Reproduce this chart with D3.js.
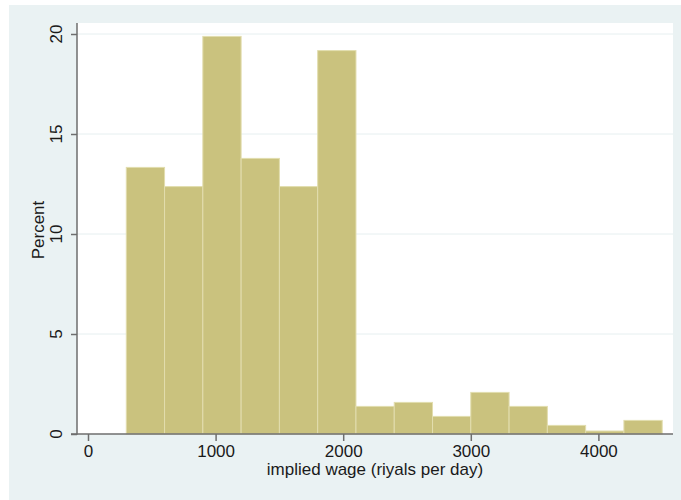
<!DOCTYPE html>
<html><head><meta charset="utf-8">
<script src="https://cdn.jsdelivr.net/npm/d3@7"></script>
<style>body{margin:0;background:#fff;}svg{display:block;}text{font-family:"Liberation Sans",Arial,sans-serif;fill:#1a1a1a;}</style>
</head><body>
<script>
const binStarts = [300,600,900,1200,1500,1800,2100,2400,2700,3000,3300,3600,3900,4200];
const binWidth = 300;
const percents = [13.33,12.37,19.88,13.78,12.37,19.17,1.38,1.58,0.88,2.08,1.38,0.43,0.15,0.68];
const xTicks = [0,1000,2000,3000,4000];
const yTicks = [0,5,10,15,20];
const xLabel = "implied wage (riyals per day)";
const yLabel = "Percent";

const W=681,H=500;
const svg=d3.select("body").append("svg").attr("width",W).attr("height",H);
svg.append("rect").attr("x",9).attr("y",5).attr("width",W-9).attr("height",H-5).attr("fill","#eaf2f3");
const pl=77,pr=673,pt=23,pb=434;
svg.append("rect").attr("x",pl).attr("y",pt).attr("width",pr-pl).attr("height",pb-pt).attr("fill","#fff");

const x=d3.scaleLinear().domain([0,4000]).range([88,598.4]);
const y=d3.scaleLinear().domain([0,20]).range([434,34]);

// gridlines
svg.append("g").selectAll("line").data(yTicks.filter(d=>d>0)).join("line")
 .attr("x1",pl).attr("x2",pr).attr("y1",d=>y(d)).attr("y2",d=>y(d))
 .attr("stroke","#e6eff0").attr("stroke-width",1);

// bars
svg.append("g").selectAll("rect").data(binStarts).join("rect")
 .attr("x",d=>x(d)).attr("width",d=>x(d+binWidth)-x(d))
 .attr("y",(d,i)=>y(percents[i])).attr("height",(d,i)=>y(0)-y(percents[i]))
 .attr("fill","#cac27e").attr("stroke","#e2ddae").attr("stroke-width",1);

// axes
const xa=svg.append("g").attr("transform",`translate(0,${pb})`)
 .call(d3.axisBottom(x).tickValues(xTicks).tickSize(7).tickPadding(4).tickFormat(d3.format("d")));
xa.select(".domain").remove();
xa.selectAll("line").attr("stroke","#6e6e6e").attr("stroke-width",1.5);
xa.selectAll("text").attr("font-size","17px").attr("fill","#1a1a1a");
svg.append("line").attr("x1",pl-6).attr("x2",pr).attr("y1",pb).attr("y2",pb).attr("stroke","#6e6e6e").attr("stroke-width",1.5);

const ya=svg.append("g").attr("transform",`translate(${pl},0)`)
 .call(d3.axisLeft(y).tickValues(yTicks).tickSize(6).tickFormat(d3.format("d")));
ya.select(".domain").remove();
ya.selectAll("line").attr("stroke","#6e6e6e").attr("stroke-width",1.5);
ya.selectAll("text").remove();
svg.append("line").attr("x1",pl).attr("x2",pl).attr("y1",pt).attr("y2",pb+0.75).attr("stroke","#6e6e6e").attr("stroke-width",1.5);
svg.append("g").selectAll("text").data(yTicks).join("text")
 .attr("transform",d=>`translate(62,${y(d)}) rotate(-90)`)
 .attr("text-anchor","middle").attr("font-size","17px").text(d=>d);

svg.append("text").attr("x",375).attr("y",475).attr("text-anchor","middle").attr("font-size","17px").text(xLabel);
svg.append("text").attr("transform",`translate(44,230) rotate(-90)`).attr("text-anchor","middle").attr("font-size","17px").text(yLabel);
</script>
</body></html>
